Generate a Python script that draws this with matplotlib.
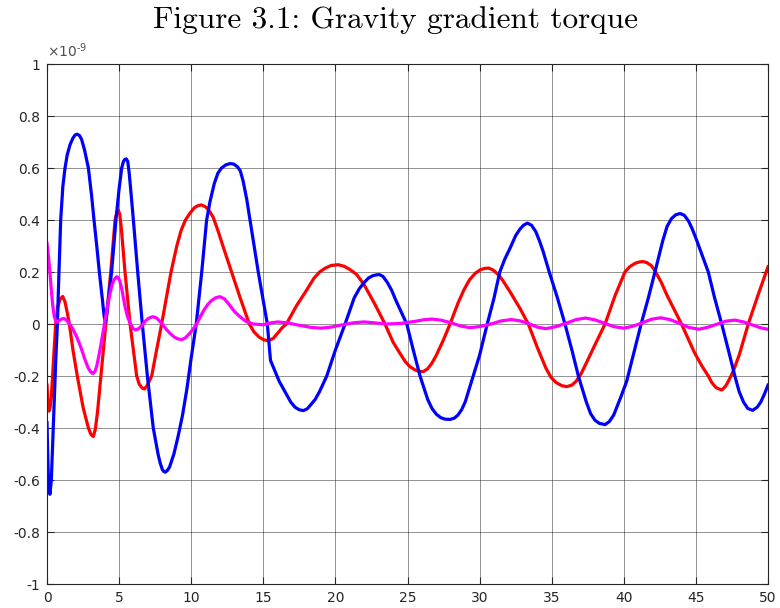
import numpy as np
import matplotlib
matplotlib.use("Agg")
import matplotlib.pyplot as plt
from matplotlib.ticker import FuncFormatter

plt.rcParams['axes.unicode_minus'] = False

SCALE = 1e-9

blue_pts = [
    (0.0, -0.38), (0.05, -0.5), (0.1, -0.6), (0.2, -0.655), (0.3, -0.6), (0.4, -0.45), (0.5, -0.3), (0.6, -0.15),
    (0.72, 0.0), (0.83, 0.2), (0.95, 0.4), (1.1, 0.53), (1.25, 0.6), (1.4, 0.65), (1.6, 0.69), (1.8, 0.715),
    (1.95, 0.727), (2.1, 0.73), (2.25, 0.725), (2.4, 0.71), (2.6, 0.67), (2.75, 0.63), (2.87, 0.6), (3.1, 0.49),
    (3.26, 0.4), (3.45, 0.3), (3.63, 0.2), (3.85, 0.09), (3.95, 0.035), (4.05, 0.005), (4.15, 0.04), (4.25, 0.09),
    (4.48, 0.2), (4.78, 0.4), (5.0, 0.52), (5.18, 0.6), (5.3, 0.625), (5.4, 0.633), (5.5, 0.635), (5.6, 0.625),
    (5.7, 0.58), (5.8, 0.52), (5.99, 0.4), (6.29, 0.2), (6.61, 0.0), (6.96, -0.2), (7.37, -0.4), (7.7, -0.5),
    (7.85, -0.535), (8.0, -0.56), (8.1, -0.567), (8.2, -0.57), (8.35, -0.563), (8.5, -0.55), (8.65, -0.525),
    (8.8, -0.5), (9.1, -0.43), (9.4, -0.35), (9.7, -0.25), (10.0, -0.13), (10.35, 0.0), (10.73, 0.2), (11.07, 0.4),
    (11.3, 0.47), (11.6, 0.54), (11.85, 0.58), (12.1, 0.6), (12.4, 0.612), (12.7, 0.617), (12.95, 0.615),
    (13.2, 0.605), (13.4, 0.59), (13.6, 0.55), (13.85, 0.48), (14.08, 0.4), (14.65, 0.2), (15.28, 0.0),
    (15.5, -0.14), (16.1, -0.22), (16.6, -0.27), (16.9, -0.3), (17.2, -0.32), (17.5, -0.33), (17.78, -0.333),
    (18.05, -0.326), (18.3, -0.31), (18.6, -0.29), (18.9, -0.26), (19.4, -0.2), (20.0, -0.1), (20.67, 0.0),
    (21.3, 0.1), (21.65, 0.135), (22.0, 0.16), (22.3, 0.177), (22.6, 0.186), (22.85, 0.189), (23.05, 0.19),
    (23.3, 0.183), (23.6, 0.16), (23.9, 0.13), (24.2, 0.09), (24.95, 0.0), (25.4, -0.1), (25.87, -0.2),
    (26.4, -0.29), (26.7, -0.325), (27.0, -0.347), (27.3, -0.36), (27.6, -0.366), (27.95, -0.367), (28.25, -0.362),
    (28.5, -0.35), (28.75, -0.33), (29.0, -0.3), (29.56, -0.2), (30.0, -0.12), (30.53, 0.0), (31.0, 0.1),
    (31.4, 0.2), (31.75, 0.25), (32.1, 0.29), (32.5, 0.34), (32.8, 0.365), (33.05, 0.38), (33.31, 0.388),
    (33.6, 0.38), (33.9, 0.355), (34.15, 0.32), (34.4, 0.28), (34.83, 0.2), (35.4, 0.1), (35.92, 0.0),
    (36.4, -0.1), (36.85, -0.2), (37.4, -0.3), (37.7, -0.345), (38.0, -0.37), (38.3, -0.382), (38.7, -0.387),
    (39.0, -0.375), (39.3, -0.35), (39.55, -0.315), (39.8, -0.28), (40.2, -0.22), (40.7, -0.11), (41.2, 0.0),
    (41.7, 0.1), (42.16, 0.2), (42.7, 0.32), (43.0, 0.375), (43.3, 0.405), (43.6, 0.42), (43.9, 0.425),
    (44.2, 0.418), (44.5, 0.395), (44.75, 0.365), (45.0, 0.33), (45.4, 0.27), (45.86, 0.2), (46.3, 0.1),
    (46.79, 0.0), (47.25, -0.1), (47.7, -0.2), (48.0, -0.26), (48.3, -0.3), (48.6, -0.325), (48.94, -0.332),
    (49.25, -0.32), (49.5, -0.3), (49.75, -0.27), (50.0, -0.235)]
blue_x = [p[0] for p in blue_pts]
blue_y = [p[1] for p in blue_pts]

red_pts = [
    (0.0, -0.235), (0.07, -0.31), (0.14, -0.335), (0.22, -0.32), (0.3, -0.28), (0.45, -0.14), (0.6, 0.0),
    (0.75, 0.065), (0.9, 0.095), (1.09, 0.106), (1.25, 0.085), (1.4, 0.045), (1.55, 0.0), (1.8, -0.1), (2.1, -0.2),
    (2.5, -0.32), (2.87, -0.4), (3.05, -0.425), (3.21, -0.433), (3.35, -0.405), (3.5, -0.34), (3.74, -0.2),
    (4.09, 0.0), (4.42, 0.2), (4.72, 0.4), (4.85, 0.43), (4.95, 0.438), (5.05, 0.42), (5.15, 0.37), (5.41, 0.2),
    (5.76, 0.0), (6.22, -0.2), (6.4, -0.232), (6.6, -0.246), (6.75, -0.25), (6.9, -0.24), (7.05, -0.225),
    (7.26, -0.2), (7.6, -0.1), (7.95, 0.0), (8.6, 0.2), (9.0, 0.3), (9.3, 0.36), (9.6, 0.4), (9.9, 0.425),
    (10.2, 0.446), (10.45, 0.455), (10.7, 0.458), (10.95, 0.452), (11.2, 0.44), (11.53, 0.41), (11.85, 0.36),
    (12.2, 0.3), (12.8, 0.2), (13.4, 0.1), (14.03, 0.0), (14.35, -0.03), (14.7, -0.05), (15.0, -0.06),
    (15.35, -0.065), (15.7, -0.055), (16.0, -0.035), (16.3, -0.015), (16.6, 0.0), (17.3, 0.07), (18.0, 0.13),
    (18.5, 0.175), (18.9, 0.2), (19.3, 0.215), (19.7, 0.225), (20.2, 0.228), (20.6, 0.222), (21.0, 0.21),
    (21.48, 0.19), (22.0, 0.15), (22.7, 0.08), (23.44, 0.0), (24.0, -0.07), (24.48, -0.113), (24.85, -0.145),
    (25.17, -0.164), (25.5, -0.176), (25.8, -0.182), (26.1, -0.183), (26.4, -0.172), (26.7, -0.15), (27.0, -0.12),
    (27.5, -0.06), (27.95, 0.0), (28.5, 0.08), (28.9, 0.13), (29.3, 0.17), (29.7, 0.195), (30.03, 0.208),
    (30.35, 0.214), (30.65, 0.215), (30.95, 0.207), (31.3, 0.19), (31.6, 0.168), (32.1, 0.125), (32.8, 0.06),
    (33.38, 0.0), (34.0, -0.09), (34.6, -0.17), (34.95, -0.205), (35.3, -0.225), (35.7, -0.237), (36.04, -0.241),
    (36.4, -0.235), (36.7, -0.22), (37.05, -0.19), (37.4, -0.15), (38.0, -0.08), (38.7, 0.0), (39.4, 0.11),
    (40.08, 0.2), (40.4, 0.22), (40.8, 0.234), (41.1, 0.239), (41.35, 0.24), (41.6, 0.236), (41.9, 0.225),
    (42.16, 0.205), (42.6, 0.16), (43.0, 0.11), (44.0, 0.0), (44.9, -0.11), (45.4, -0.16), (45.86, -0.2),
    (46.1, -0.225), (46.4, -0.245), (46.79, -0.254), (47.05, -0.24), (47.3, -0.215), (47.6, -0.18), (48.0, -0.12),
    (48.63, 0.0), (49.3, 0.11), (50.0, 0.22)]
red_x = [p[0] for p in red_pts]
red_y = [p[1] for p in red_pts]

mag_pts = [
    (0.0, 0.31), (0.1, 0.26), (0.2, 0.2), (0.3, 0.13), (0.4, 0.07), (0.5, 0.03), (0.62, 0.008), (0.75, 0.008),
    (0.9, 0.015), (1.05, 0.02), (1.18, 0.021), (1.35, 0.015), (1.5, 0.005), (1.75, -0.015), (2.06, -0.049),
    (2.35, -0.09), (2.64, -0.138), (2.85, -0.168), (3.0, -0.182), (3.12, -0.189), (3.21, -0.19), (3.32, -0.183),
    (3.45, -0.162), (3.63, -0.113), (3.8, -0.06), (3.98, 0.0), (4.17, 0.06), (4.37, 0.118), (4.52, 0.152),
    (4.65, 0.17), (4.83, 0.182), (4.95, 0.178), (5.05, 0.165), (5.2, 0.13), (5.41, 0.067), (5.6, 0.025),
    (5.8, 0.0), (5.98, -0.018), (6.15, -0.023), (6.35, -0.018), (6.6, -0.005), (6.8, 0.01), (7.0, 0.02),
    (7.2, 0.026), (7.37, 0.028), (7.6, 0.023), (7.8, 0.012), (8.05, -0.005), (8.3, -0.022), (8.55, -0.037),
    (8.8, -0.049), (9.05, -0.057), (9.34, -0.06), (9.6, -0.053), (9.9, -0.036), (10.15, -0.018), (10.38, 0.0),
    (10.65, 0.03), (10.9, 0.055), (11.15, 0.075), (11.4, 0.09), (11.7, 0.101), (12.0, 0.105), (12.3, 0.097),
    (12.7, 0.07), (13.0, 0.048), (13.38, 0.028), (13.8, 0.01), (14.3, 0.0), (15.0, -0.003), (15.5, 0.004),
    (16.0, 0.008), (16.7, 0.004), (17.5, -0.005), (18.3, -0.013), (19.0, -0.016), (19.7, -0.012), (20.5, -0.003),
    (21.3, 0.005), (22.0, 0.008), (22.8, 0.004), (23.5, 0.0), (24.5, 0.002), (25.5, 0.01), (26.1, 0.016),
    (26.68, 0.019), (27.3, 0.015), (28.0, 0.005), (28.7, -0.008), (29.33, -0.014), (30.0, -0.01), (30.8, 0.0),
    (31.5, 0.012), (32.2, 0.017), (32.8, 0.012), (33.4, 0.002), (34.0, -0.012), (34.6, -0.018), (35.3, -0.01),
    (36.0, 0.003), (36.7, 0.017), (37.35, 0.023), (38.0, 0.016), (38.6, 0.004), (39.3, -0.01), (40.0, -0.016),
    (40.6, -0.009), (41.3, 0.005), (41.9, 0.018), (42.55, 0.024), (43.2, 0.017), (43.9, 0.002), (44.5, -0.013),
    (45.2, -0.02), (45.8, -0.013), (46.5, 0.0), (47.1, 0.011), (47.7, 0.015), (48.3, 0.008), (49.0, -0.005),
    (49.5, -0.015), (50.0, -0.02)]
mag_x = [p[0] for p in mag_pts]
mag_y = [p[1] for p in mag_pts]

x_ticks = [0, 5, 10, 15, 20, 25, 30, 35, 40, 45, 50]
y_ticks = [-1, -0.8, -0.6, -0.4, -0.2, 0, 0.2, 0.4, 0.6, 0.8, 1]

fig = plt.figure(figsize=(7.8, 6.08), dpi=100)
ax = fig.add_axes([47 / 780, 24 / 608, 721 / 780, 520 / 608])

lw = 2.3
ax.plot(red_x, np.array(red_y) * SCALE, color=(1, 0, 0), lw=lw, solid_joinstyle='round')
ax.plot(blue_x, np.array(blue_y) * SCALE, color=(0, 0, 1), lw=lw, solid_joinstyle='round')
ax.plot(mag_x, np.array(mag_y) * SCALE, color=(1, 0, 1), lw=lw, solid_joinstyle='round')

ax.set_xlim(0, 50)
ax.set_ylim(-1 * SCALE, 1 * SCALE)
ax.set_xticks(x_ticks)
ax.set_yticks([v * SCALE for v in y_ticks])
ax.yaxis.set_major_formatter(FuncFormatter(lambda v, p: ('%g' % round(v / SCALE, 3))))
ax.xaxis.set_major_formatter(FuncFormatter(lambda v, p: '%g' % v))
ax.grid(True, color='#262626', alpha=0.5, lw=0.7)
ax.tick_params(direction='in', length=5, width=0.8, top=True, right=True, labelsize=10,
               colors='#262626', pad=5)
for s in ax.spines.values():
    s.set_color('#262626')
    s.set_linewidth(0.8)

ax.text(0.0, 1.008, r'$\times10^{\text{-}9}$', transform=ax.transAxes, fontsize=10,
        color='#505050', ha='left', va='bottom', family='DejaVu Sans', math_fontfamily='dejavusans')

fig.text(395.5 / 780, 1 - 20 / 608, 'Figure 3.1: Gravity gradient torque',
         ha='center', va='center', fontsize=22.5, family='cmr10')

fig.savefig('out.png', dpi=100)
